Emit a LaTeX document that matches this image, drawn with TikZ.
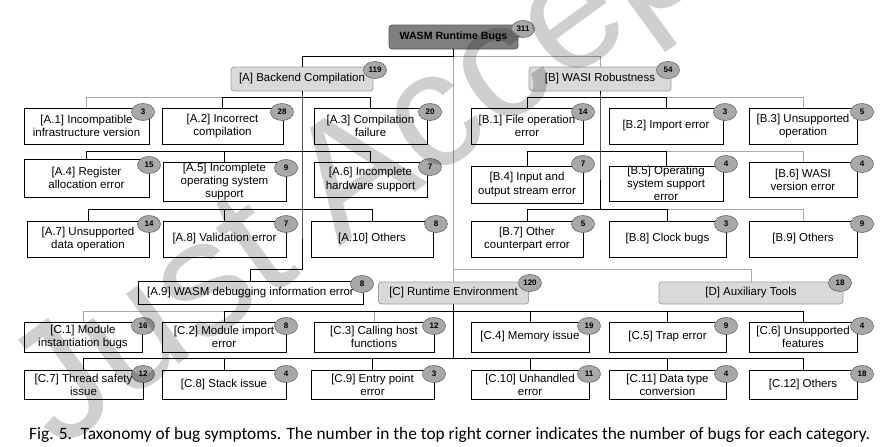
\documentclass[tikz,border=0pt]{standalone}
\usepackage{fontspec}
\usepackage{graphicx}
\setmainfont{Liberation Sans}
\newfontfamily\capfont{Carlito}
\usetikzlibrary{shapes.geometric,calc}
\definecolor{rootfill}{HTML}{7F7F7F}
\definecolor{rootline}{HTML}{5A5A5A}
\definecolor{catfill}{HTML}{D9D9D9}
\definecolor{catline}{HTML}{A0A0A0}
\definecolor{badgefill}{HTML}{A8A8A8}
\definecolor{badgeline}{HTML}{6A6A6A}
\definecolor{lngray}{HTML}{A8A8A8}
\definecolor{wmgray}{HTML}{CFCFCF}
\newcommand\leaffont{\fontsize{11.5}{13.2}\selectfont}
\begin{document}
\begin{tikzpicture}[x=1pt,y=-1pt,
  leaf/.style={draw=black, line width=0.9pt, inner sep=0pt, align=center, font=\leaffont},
  cat/.style={draw=catline, fill=catfill, rounded corners=3pt, line width=0.8pt, inner sep=0pt, font=\leaffont},
  rootbox/.style={draw=rootline, fill=rootfill, rounded corners=3pt, line width=0.8pt, inner sep=0pt, font=\fontsize{10.6}{12}\selectfont\bfseries},
  badge/.style={ellipse, draw=badgeline, fill=badgefill, line width=0.6pt, minimum width=23pt, minimum height=17pt, inner sep=0pt, font=\fontsize{8}{8}\selectfont\bfseries},
  blk/.style={draw=black, line width=0.9pt},
  gry/.style={draw=lngray, line width=0.9pt}]
\useasboundingbox (0,0) rectangle (887,447);

% ---------- boxes ----------
\node[rootbox, minimum width=129, minimum height=24] (root) at (453.5,37) {WASM Runtime Bugs};
\node[cat, minimum width=142, minimum height=24] (A) at (302,79) {[A] Backend Compilation};
\node[cat, minimum width=142, minimum height=24] (B) at (600,79) {[B] WASI Robustness};
\node[cat, minimum width=150, minimum height=22] (C) at (453.5,293) {[C] Runtime Environment};
\node[cat, minimum width=184, minimum height=22] (D) at (751,293) {[D] Auxiliary Tools};

\node[leaf, minimum width=125, minimum height=36] (a1) at (86.5,126) {[A.1] Incompatible\\infrastructure version};
\node[leaf, minimum width=121, minimum height=36] (a2) at (222.5,126) {[A.2] Incorrect\\compilation};
\node[leaf, minimum width=113, minimum height=36] (a3) at (370.5,126) {[A.3] Compilation\\failure};
\node[leaf, minimum width=125, minimum height=38] (a4) at (86.5,178) {[A.4] Register\\allocation error};
\node[leaf, minimum width=123, minimum height=39] (a5) at (224.5,181.5) {[A.5] Incomplete\\operating system\\support};
\node[leaf, minimum width=113, minimum height=35] (a6) at (370.5,179.5) {[A.6] Incomplete\\hardware support};
\node[leaf, minimum width=122, minimum height=36] (a7) at (88,239) {[A.7] Unsupported\\data operation};
\node[leaf, minimum width=123, minimum height=36] (a8) at (224.5,239) {[A.8] Validation error};
\node[leaf, minimum width=122, minimum height=36] (a10) at (372,239) {[A.10] Others};
\node[leaf, minimum width=225, minimum height=23] (a9) at (250.5,292.5) {[A.9] WASM debugging information error};

\node[leaf, minimum width=112, minimum height=36] (b1) at (527,126) {[B.1] File operation\\error};
\node[leaf, minimum width=114, minimum height=36] (b2) at (666,126) {[B.2] Import error};
\node[leaf, minimum width=108, minimum height=36] (b3) at (803,126) {[B.3] Unsupported\\operation};
\node[leaf, minimum width=112, minimum height=37] (b4) at (527,184.5) {[B.4] Input and\\output stream error};
\node[leaf, minimum width=114, minimum height=35] (b5) at (666,183.5) {[B.5] Operating\\system support\\error};
\node[leaf, minimum width=108, minimum height=35] (b6) at (803,179.5) {[B.6] WASI\\version error};
\node[leaf, minimum width=112, minimum height=36] (b7) at (527,239) {[B.7] Other\\counterpart error};
\node[leaf, minimum width=117, minimum height=36] (b8) at (667.5,239) {[B.8] Clock bugs};
\node[leaf, minimum width=108, minimum height=36] (b9) at (803,239) {[B.9] Others};

\node[leaf, minimum width=118, minimum height=30] (c1) at (83,337) {[C.1] Module\\instantiation bugs};
\node[leaf, minimum width=124, minimum height=30] (c2) at (224,337) {[C.2] Module import\\error};
\node[leaf, minimum width=120, minimum height=30] (c3) at (374,337) {[C.3] Calling host\\functions};
\node[leaf, minimum width=118, minimum height=30] (c4) at (530,337) {[C.4] Memory issue};
\node[leaf, minimum width=117, minimum height=30] (c5) at (667.5,337) {[C.5] Trap error};
\node[leaf, minimum width=108, minimum height=30] (c6) at (803,337) {[C.6] Unsupported\\features};
\node[leaf, minimum width=119, minimum height=29] (c7) at (83.5,384.5) {[C.7] Thread safety\\issue};
\node[leaf, minimum width=124, minimum height=29] (c8) at (224,384.5) {[C.8] Stack issue};
\node[leaf, minimum width=123, minimum height=29] (c9) at (372.5,384.5) {[C.9] Entry point\\error};
\node[leaf, minimum width=118, minimum height=29] (c10) at (530,384.5) {[C.10] Unhandled\\error};
\node[leaf, minimum width=117, minimum height=29] (c11) at (667.5,384.5) {[C.11] Data type\\conversion};
\node[leaf, minimum width=108, minimum height=29] (c12) at (803,384.5) {[C.12] Others};

% ---------- connectors ----------
\coordinate (jr) at (453.5,56);
\coordinate (jd) at (453.5,269);
\draw[gry] (jr) -| (B.north);
\draw[gry] (jr) -- (C.north);
\draw[gry] (jd) -| (D.north);
\draw[blk] (root.south) -- (jr) -| (A.north);

\coordinate (ja1) at (302,97);
\coordinate (ja2) at (302,151);
\coordinate (ja3) at (302,209);
\coordinate (ja4) at (302,269);
\draw[gry] (ja1) -| (a1.north);
\draw[blk] (A.south) -- (ja1) -- (ja2) -- (ja3) -- (ja4) -| (a9.north);
\draw[blk] (ja1) -| (a2.north);
\draw[blk] (ja1) -| (a3.north);
\draw[blk] (ja2) -| (a4.north);
\draw[blk] (ja2) -| (a5.north);
\draw[blk] (ja2) -| (a6.north);
\draw[blk] (ja3) -| (a7.north);
\draw[blk] (ja3) -| (a8.north);
\draw[blk] (ja3) -| (a10.north);

\coordinate (jb1) at (600,97);
\coordinate (jb2) at (600,151);
\coordinate (jb3) at (600,209);
\draw[gry] (jb1) -| (b3.north);
\draw[gry] (jb2) -| (b6.north);
\draw[gry] (jb3) -| (b9.north);
\draw[blk] (B.south) -- (jb1) -- (jb2) -- (jb3);
\draw[blk] (jb1) -| (b1.north);
\draw[blk] (jb1) -| (b2.north);
\draw[blk] (jb2) -| (b4.north);
\draw[blk] (jb2) -| (b5.north);
\draw[blk] (jb3) -| (b7.north);
\draw[blk] (jb3) -| (b8.north);

\coordinate (jc1) at (453.5,311);
\coordinate (jc2) at (453.5,358);
\draw[gry] (jc1) -| (c1.north);
\draw[gry] (jc1) -| (c3.north);
\draw[blk] (C.south) -- (jc1) -- (jc2);
\draw[blk] (jc1) -| (c2.north);
\draw[blk] (jc1) -| (c4.north);
\draw[blk] (jc1) -| (c5.north);
\draw[blk] (jc1) -| (c6.north);
\draw[blk] (jc2) -| (c7.north);
\draw[blk] (jc2) -| (c8.north);
\draw[blk] (jc2) -| (c9.north);
\draw[blk] (jc2) -| (c10.north);
\draw[blk] (jc2) -| (c11.north);
\draw[blk] (jc2) -| (c12.north);

% ---------- badges ----------
\node[badge] (nroot) at (523,29) {311};
\node[badge] (nA) at (375,70) {119};
\node[badge] (nB) at (668,70) {54};
\node[badge] (nC) at (530,283) {120};
\node[badge] (nD) at (840,283) {18};
\node[badge] (na1) at (143,112) {3};
\node[badge] (na2) at (282,112) {28};
\node[badge] (na3) at (430,112) {20};
\node[badge] (na4) at (149,165) {15};
\node[badge] (na5) at (286,168) {9};
\node[badge] (na6) at (430,167) {7};
\node[badge] (na7) at (149,224) {14};
\node[badge] (na8) at (286,224) {7};
\node[badge] (na10) at (436,224) {8};
\node[badge] (na9) at (362,284) {8};
\node[badge] (nb1) at (583,112) {14};
\node[badge] (nb2) at (725,112) {3};
\node[badge] (nb3) at (862,112) {5};
\node[badge] (nb4) at (583,164) {7};
\node[badge] (nb5) at (726,164) {4};
\node[badge] (nb6) at (862,164) {4};
\node[badge] (nb7) at (583,224) {5};
\node[badge] (nb8) at (726,224) {3};
\node[badge] (nb9) at (862,224) {9};
\node[badge] (nc1) at (143,326) {16};
\node[badge] (nc2) at (286,326) {8};
\node[badge] (nc3) at (434,326) {12};
\node[badge] (nc4) at (589,326) {19};
\node[badge] (nc5) at (726,326) {9};
\node[badge] (nc6) at (862,326) {4};
\node[badge] (nc7) at (143,374) {12};
\node[badge] (nc8) at (286,374) {4};
\node[badge] (nc9) at (434,374) {3};
\node[badge] (nc10) at (589,374) {11};
\node[badge] (nc11) at (726,374) {4};
\node[badge] (nc12) at (862,374) {18};

% ---------- caption ----------
\node[anchor=base west, inner sep=0pt] (cap) at (29,439) {\resizebox{841pt}{!}{\capfont\fontsize{16}{18}\selectfont Fig. 5.\enspace Taxonomy of bug symptoms. The number in the top right corner indicates the number of bugs for each category.}};

% ---------- watermark ----------
\begin{scope}[blend mode=multiply]
\clip (0,0) rectangle (887,447);
\node[rotate=36, anchor=base west, inner sep=0pt, text=wmgray, font=\fontsize{165}{165}\selectfont] (wm) at (58,452) {Just Accepted};
\end{scope}
\end{tikzpicture}
\end{document}
